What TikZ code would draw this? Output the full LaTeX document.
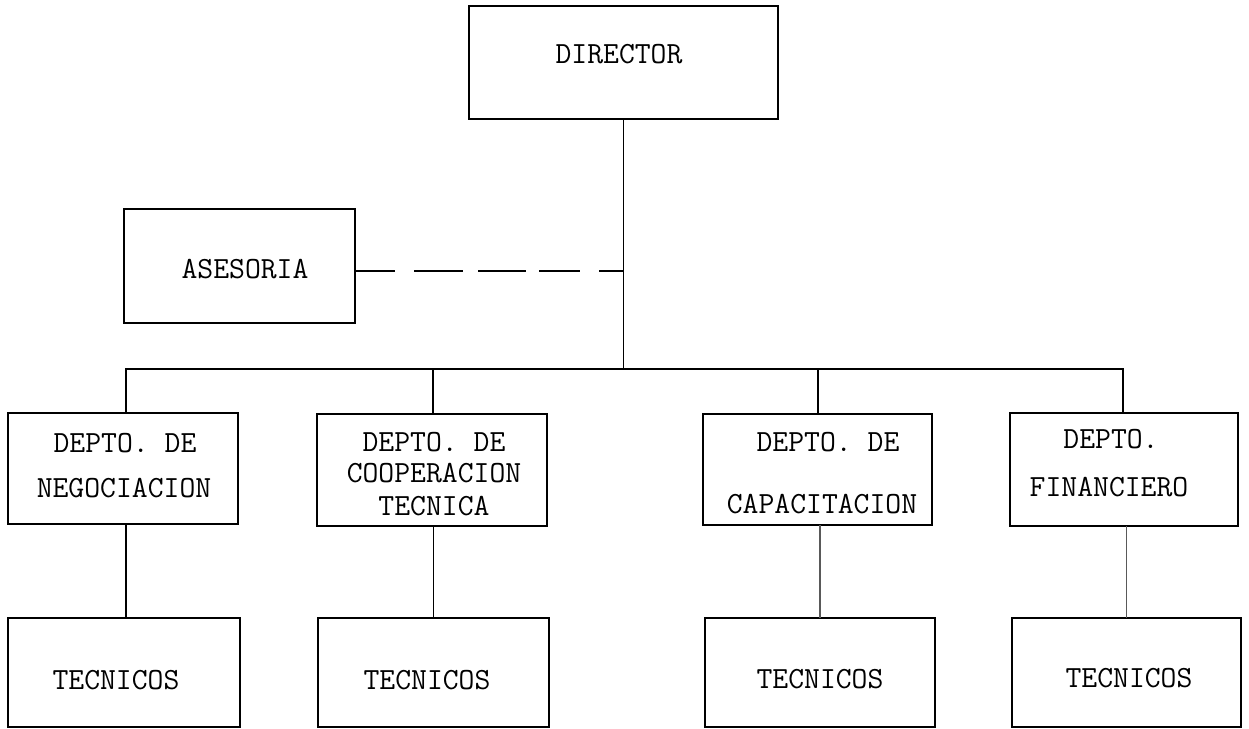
\documentclass[tikz,border=0pt]{standalone}
\begin{document}
\begin{tikzpicture}[x=0.5pt,y=-0.5pt,
  box/.style={draw, line width=0.8pt, inner sep=0pt, outer sep=0pt},
  lbl/.style={font=\fontsize{15.4}{18}\selectfont\ttfamily, inner sep=0pt},
  conn/.style={line width=0.8pt},
  thinconn/.style={line width=0.6pt, black!65},
  staff/.style={line width=0.8pt, dash pattern=on 19.8pt off 9.8pt on 24.5pt off 7.4pt on 24pt off 6.5pt on 20.6pt off 9.5pt on 20pt}]
\useasboundingbox (0,0) rectangle (1249,729);

% boxes
\node[box, minimum width=154.5pt, minimum height=56.5pt] (dir) at (623.5,62.5) {};
\node[box, minimum width=115.5pt, minimum height=57pt] (ases) at (239.5,266) {};
\node[box, minimum width=115pt, minimum height=55.5pt] (d1) at (123,468.5) {};
\node[box, minimum width=115pt, minimum height=56pt] (d2) at (432,470) {};
\node[box, minimum width=114.5pt, minimum height=55.5pt] (d3) at (817.5,469.5) {};
\node[box, minimum width=114pt, minimum height=56.5pt] (d4) at (1124,469.5) {};
\node[box, minimum width=116pt, minimum height=54.5pt] (t1) at (124,672.5) {};
\node[box, minimum width=115.5pt, minimum height=54.5pt] (t2) at (433.5,672.5) {};
\node[box, minimum width=115pt, minimum height=54.5pt] (t3) at (820,672.5) {};
\node[box, minimum width=114.5pt, minimum height=54.5pt] (t4) at (1126.5,672.5) {};

% labels
\node[lbl] (dirtxt) at (619,54) {DIRECTOR};
\node[lbl] (asestxt) at (245,269) {ASESORIA};
\node[lbl] (d1a) at (125,443) {DEPTO. DE};
\node[lbl] (d1b) at (124,488) {NEGOCIACION};
\node[lbl] (d2a) at (434,442) {DEPTO. DE};
\node[lbl] (d2b) at (434,473) {COOPERACION};
\node[lbl] (d2c) at (434,506) {TECNICA};
\node[lbl] (d3a) at (828,442) {DEPTO. DE};
\node[lbl] (d3b) at (822,504) {CAPACITACION};
\node[lbl] (d4a) at (1111,439) {DEPTO.};
\node[lbl] (d4b) at (1109,487) {FINANCIERO};
\node[lbl] (t1txt) at (116,680) {TECNICOS};
\node[lbl] (t2txt) at (427,680) {TECNICOS};
\node[lbl] (t3txt) at (820,679) {TECNICOS};
\node[lbl] (t4txt) at (1129,678) {TECNICOS};

% bus junctions
\coordinate (j1) at (126,369);
\coordinate (j2) at (433,369);
\coordinate (j3) at (818,369);
\coordinate (j4) at (1123,369);
\coordinate (dj) at (624,271);

% connectors
\draw[conn] (dir.south) -- (dir.south |- j1);
\draw[conn] (j1 |- d1.north) -- (j1) -- (j4) -- (j4 |- d4.north);
\draw[conn] (j2) -- (j2 |- d2.north);
\draw[conn] (j3) -- (j3 |- d3.north);
\draw[staff] (ases.east |- dj) -- (dj);

\draw[conn] (j1 |- d1.south) -- (j1 |- t1.north);
\draw[conn] (t2.north |- d2.south) -- (t2.north);
\draw[thinconn] (t3.north |- d3.south) -- (t3.north);
\draw[thinconn] (t4.north |- d4.south) -- (t4.north);
\end{tikzpicture}
\end{document}
